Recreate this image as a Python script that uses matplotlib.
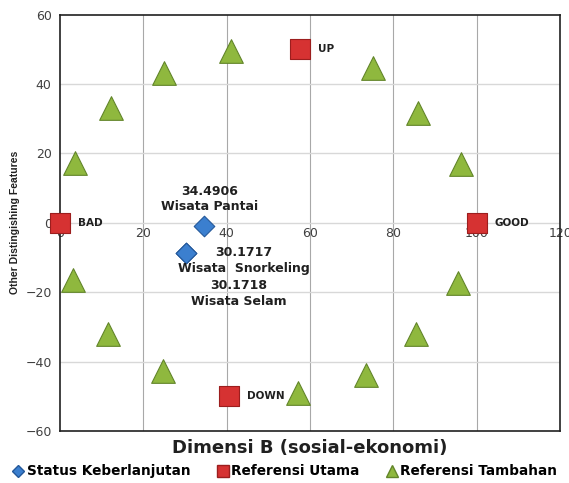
import matplotlib.pyplot as plt
from matplotlib.lines import Line2D

# data
status_names = ['Wisata Pantai', 'Wisata  Snorkeling', 'Wisata Selam']
status_scores = [34.4906, 30.1717, 30.1718]
status_y = [-0.8, -8.7, -8.7]

main_labels = ['BAD', 'GOOD', 'UP', 'DOWN']
main_x = [0, 100, 57.5, 40.5]
main_y = [0, 0, 50, -50]

extra_x = [3.6, 12.2, 25, 41, 75.1, 85.9, 96.2, 95.5, 85.4, 73.4, 57.1, 24.7, 11.5, 3.1]
extra_y = [17.3, 33.2, 43.3, 49.6, 44.7, 31.7, 17, -17.3, -32, -43.8, -49, -42.7, -32, -16.4]

x_ticks = [0, 20, 40, 60, 80, 100, 120]
y_ticks = [-60, -40, -20, 0, 20, 40, 60]

blue, blue_e = '#3b7fcf', '#24589a'
red, red_e = '#d63232', '#9c1e1e'
green, green_e = '#8fb83e', '#62852a'

fig = plt.figure(figsize=(5.69, 4.83), dpi=100)
ax = fig.add_axes([0.1054, 0.1077, 0.879, 0.862])
ax.set_xlim(0, 120)
ax.set_ylim(-60, 60)

ax.set_xticks(x_ticks)
ax.set_yticks(y_ticks)
for x in x_ticks[1:-1]:
    ax.axvline(x, color='#a8a8a8', lw=0.8, zorder=0)
for y in y_ticks[1:-1]:
    ax.axhline(y, color='#d8d8d8', lw=1.0, zorder=0)

for s in ax.spines.values():
    s.set_color('#202020')
    s.set_linewidth(1.2)

ax.tick_params(axis='y', length=0, pad=6, labelsize=9, labelcolor='#404040')
ax.tick_params(axis='x', length=0, labelbottom=False)
sec = ax.secondary_xaxis(0.5)
sec.xaxis.set_ticks_position('bottom')
sec.set_xticks(x_ticks)
for s in sec.spines.values():
    s.set_visible(False)
sec.tick_params(length=0, pad=3, labelsize=9, labelcolor='#404040',
                labelbottom=True, labeltop=False)

ax.scatter(extra_x, extra_y, marker='^', s=290, c=green, edgecolors=green_e,
           linewidths=0.8, zorder=3, clip_on=False)
ax.scatter(main_x, main_y, marker='s', s=200, c=red, edgecolors=red_e,
           linewidths=0.8, zorder=3, clip_on=False)
ax.scatter(status_scores, status_y, marker='D', s=110, c=blue, edgecolors=blue_e,
           linewidths=0.8, zorder=4)

for lab, x, y in zip(main_labels, main_x, main_y):
    ax.annotate(lab, (x, y), xytext=(13, 0), textcoords='offset points',
                ha='left', va='center', fontsize=7.5, fontweight='bold', color='#202020')

label_offsets = [(4, 9, 'center', 'bottom'), (42, 5, 'center', 'top'), (38, -19, 'center', 'top')]
for name, sc, x, y, (dx, dy, ha, va) in zip(status_names, status_scores, status_scores,
                                              status_y, label_offsets):
    ax.annotate(f'{sc:.4f}\n{name}', (x, y), xytext=(dx, dy), textcoords='offset points',
                ha=ha, va=va, fontsize=9, fontweight='bold', color='#202020',
                linespacing=1.25, zorder=5)

ax.set_xlabel('Dimensi B (sosial-ekonomi)', fontsize=13, fontweight='bold',
              color='#202020', labelpad=6)
ax.set_ylabel('Other Distingishing Features', fontsize=7.5, fontweight='bold',
              family='Liberation Sans', color='#202020', labelpad=4)

handles = [
    Line2D([], [], marker='D', ls='', color=blue, mec=blue_e, ms=6, label='Status Keberlanjutan'),
    Line2D([], [], marker='s', ls='', color=red, mec=red_e, ms=8, label='Referensi Utama'),
    Line2D([], [], marker='^', ls='', color=green, mec=green_e, ms=8, label='Referensi Tambahan'),
]
fig.legend(handles=handles, loc='center', bbox_to_anchor=(0.5, 0.024), ncol=3, frameon=False,
           prop={'weight': 'bold', 'size': 9.8}, handletextpad=0.1, columnspacing=1.9,
           handlelength=1.0)

fig.savefig('out.png', dpi=100)
